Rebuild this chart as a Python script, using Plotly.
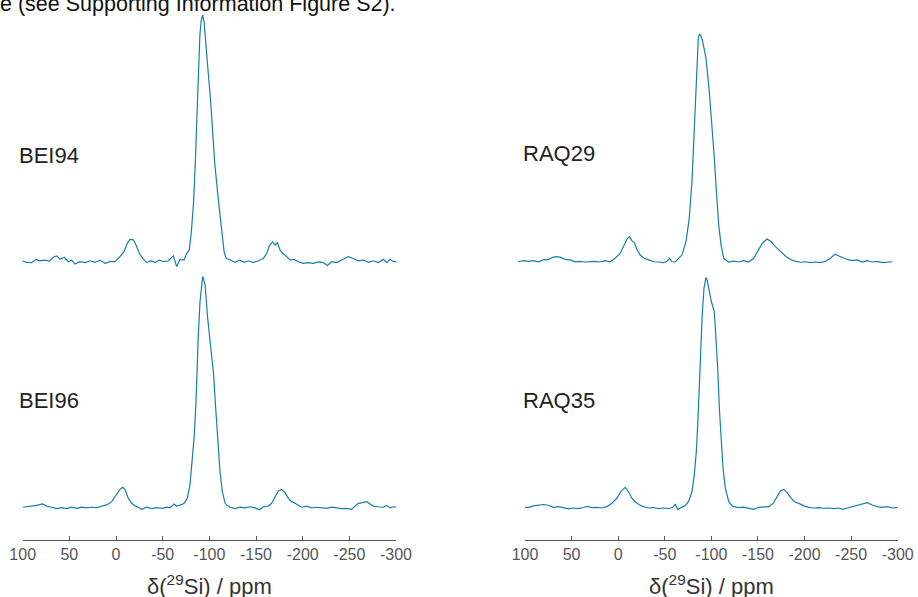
import plotly.graph_objects as go

# ---------------- data ----------------
bei94_ppm = [100, 95.7, 90.4, 85.7, 81.4, 76.1, 71.4, 67.1, 63.6, 60, 55.4, 51.1, 47.5, 44, 38.6, 33.2, 27.9, 22.5,
             17.1, 11.8, 6.4, 1.1, -3.6, -8.6, -12.1, -15, -18.6, -21.4, -25, -28.6, -32.9, -37.2, -41.8, -46.4,
             -50.7, -56.1, -61.4, -65, -68.6, -72.9, -75.7, -78.4, -80.6, -83.2, -84.8, -86, -87.2, -88.4, -89.8,
             -91.2, -92.8, -94.4, -95.8, -98.2, -101.2, -103.4, -105.8, -109.5, -113, -115.8, -117.8, -118.6,
             -122.9, -127.5, -132.2, -137.2, -141.8, -147.2, -152.5, -157.9, -161.5, -164.3, -167.9, -170.4,
             -172.9, -175.8, -178.6, -182.2, -186.5, -190.7, -195.4, -200.7, -206.1, -211.5, -216.8, -222.2,
             -226.5, -231.1, -236.5, -241.8, -249, -254.3, -259.7, -265, -270.4, -275.8, -281.1, -286.5, -290,
             -293.6, -297.2, -300]
bei94_int = [0, -0.6, -0.7, 0.7, 0.1, 0.4, 0, 1.6, 2.2, 0.7, 1.6, -0.3, 0.4, -1.3, -0.3, -0.7, 0.1, -0.6,
             0.4, -1, -0.3, -0.3, 1.6, 4, 7.6, 9.3, 9.1, 6.9, 3.3, 1.1, -0.7, 0.1, -0.7, 0.4,
             -0.3, 0.1, 2.2, -2.4, 0.7, 0.4, 3.3, 4.7, 12, 26, 40.7, 55, 69.4, 83.8, 97,
             103.5, 106, 103, 97, 84, 70, 57, 42, 27, 13, 4, 1.3, 1.1,
             0.4, -0.7, 0.4, -0.6, 0.1, -0.7, 0.1, 1.1, 3.3, 6.5, 8.3, 6.9,
             7.9, 4.7, 3.3, 2.2, 0.4, 0.7, -0.3, -1, -0.7, -1, -0.4, -0.7,
             -1.9, -0.3, -0.7, 0.4, 1.9, 1.1, 0.1, 0.4, -0.6, 0.1, -0.7, 0.7, -0.7,
             0.7, -0.3, -0.3]

bei96_ppm = [100, 95.7, 90.4, 85, 78.6, 74.3, 68.9, 63.6, 58.2, 52.9, 47.5, 42.1, 36.8, 31.4, 26.1, 20.7, 15.4,
             10, 4.6, 0, -4.3, -7.1, -9.6, -13.2, -16.8, -20.4, -23.9, -27.5, -32.9, -38.2, -43.6, -49, -54.3,
             -57.9, -62.2, -65, -70.3, -73.2, -76.4, -79.3, -81.8, -83.9, -85.7, -86.8, -88.2, -90, -91.5, -92.9,
             -94.3, -95.4, -98.2, -101.8, -104.6, -106.8, -108.9, -111.4, -113.9, -116.8, -118.6, -122.2, -127.5,
             -132.9, -138.2, -143.6, -149, -153.6, -157.9, -163.2, -166.8, -170.4, -174, -177.5, -181.1, -184.7,
             -188.2, -191.8, -195.4, -199, -204.3, -209.7, -215, -220.4, -225.8, -231.1, -236.5, -241.8, -247.2,
             -252.6, -256.1, -259.7, -264.3, -268.6, -272.2, -275.8, -281.1, -286.5, -290, -293.6, -297.2, -300]
bei96_int = [-0.1, 0.1, 0.4, 0.7, 1.3, 0.4, -0.1, -0.7, -0.3, -0.7, -0.1, -0.6, -0.1, -0.4, -0.1, -0.3, 0.4,
             0.9, 2.3, 5.2, 7.6, 8.5, 7.6, 3.7, 1.6, 0.4, -0.1, -1, -0.1, -0.7, -0.3, -0.6, -0.1,
             -0.4, 1.3, 0.4, 1, 1.7, 3.8, 9.6, 19.7, 31.2, 45.5, 59.9, 74.3, 88.6, 96, 99.4,
             97.5, 95.8, 81.4, 67.1, 57, 42.6, 28.3, 15.3, 6.7, 1.7, 0.9, -0.1, -0.7,
             -0.1, -0.4, 0.1, -0.4, -1.2, 0.1, 0.4, 1.6, 4.5, 7, 7.6, 6.2, 3.7,
             2.3, 1.6, 0.9, -0.1, 0.4, -0.4, -0.1, -0.4, -0.6, -0.1, -0.4, -0.7, -0.6,
             -1, 0.4, 1.6, 1.9, 2.3, 1.3, 0.4, 0.1, -0.1, 0.7, -0.4, 0.1, -0.1]

raq29_ppm = [107.2, 101.8, 96.4, 91.1, 85.7, 80.3, 74.9, 70.3, 66, 61.7, 57, 51.6, 46.3, 40.9, 35.5, 30.1, 24.8,
             19.4, 14, 8.6, 3.3, -2.1, -6.4, -10, -12.2, -14.7, -17.5, -20, -23.6, -27.9, -32.6, -38, -43.3,
             -48.7, -52.3, -55.2, -57.7, -61.3, -64.9, -68.5, -72.8, -76.3, -79.2, -81, -82.8, -84.6, -86, -87.4,
             -88.8, -90.7, -94.3, -97.8, -100.7, -103.2, -105.4, -107.9, -110.4, -113.3, -116.8, -118.6, -124,
             -129.4, -134.7, -140.1, -145.5, -149.8, -154.5, -159.8, -164.1, -168.8, -174.2, -179.5, -184.9,
             -190.3, -195.7, -201, -206.4, -211.8, -217.2, -222.5, -227.9, -232.6, -236.9, -240.5, -245.8,
             -251.2, -256.6, -261.9, -267.3, -272.7, -278.1, -283.4, -288.8, -294.2]
raq29_int = [0.1, 0.6, 0.3, 0.6, 0.1, 0.9, 1.1, 2, 2.3, 2, 1.1, 0.9, 0.1, 0.3, 0, 0.1, 0.3,
             0, 0.6, 0.1, 1.6, 3.7, 7.3, 10.2, 10.9, 9.2, 8.3, 5.5, 3, 1.6, 0.9, 0.1, 0,
             -0.3, 0.3, 1.6, 0.1, 0, 1.6, 3.1, 8.8, 18.9, 34.7, 51.9, 73.5, 90.7, 96.5, 98.2,
             97.5, 95, 87.8, 73.5, 59.1, 44.7, 30.4, 16, 7.4, 1.6, 0.5, 0, 0.4,
             0, 0.6, 0, 1.6, 4.4, 8, 9.9, 8.8, 6.6, 4.4, 2.6, 1.1,
             0.3, -0.1, 0.1, -0.3, 0, -0.3, 0.3, 1.6, 3.4, 2.6, 2, 1.1,
             0.6, 0.9, 0, 0.6, 0, 0.3, -0.3, 0, 0.1]

raq35_ppm = [101.1, 96.4, 91.1, 85.7, 80.3, 74.9, 69.6, 64.2, 58.8, 53.4, 48.1, 42.7, 37.3, 33, 28.3, 23, 17.6,
             12.2, 6.8, 1.5, -3.2, -7.5, -11.1, -14.7, -18.3, -22.9, -27.2, -32.6, -38, -43.3, -48.7, -54.1,
             -58.8, -61.3, -63.8, -68.4, -72, -75.6, -79.2, -81.7, -83.9, -85.7, -87.1, -88.2, -90, -92.1, -93.2,
             -94.3, -95.6, -97.1, -100, -103.2, -105, -106.8, -108.6, -110.4, -112.5, -115, -118.6, -122.9,
             -129.4, -134.7, -140.1, -145.5, -150.9, -156.2, -161.6, -166.3, -170.6, -174.2, -177.7, -181.3,
             -184.9, -189.2, -193.9, -199.3, -204.6, -210, -215.4, -220.7, -226.1, -231.5, -236.9, -240.5,
             -245.8, -251.2, -256.6, -261.9, -267.3, -272.7, -278.1, -283.4, -288.8, -294.2, -300.3]
raq35_int = [0.3, 0.2, 0.9, 1.2, 1.5, 1.2, 0.3, 0.6, 0, -0.4, 0, -0.3, 0.2, 0.7, 0.2, 0.3, 0,
             0.6, 2, 4.2, 7.3, 8.9, 7, 4.2, 2.7, 1.3, 0.6, 0, 0.2, -0.3, 0, -0.3,
             0.3, 1.7, -0.6, 0.3, 1.1, 2.8, 7.1, 14.3, 24.4, 38.7, 53.1, 67.5, 81.8, 94.8, 98,
             99.4, 98, 94.8, 89, 84.7, 74.7, 60.3, 43, 28.7, 17.2, 8.6, 2.8, 0.7,
             0.2, 0.4, -0.1, -0.6, 0.3, 0.3, 0.6, 2, 4.9, 7.3, 8, 6.6,
             4.6, 2.7, 2, 0.9, 0.3, 0, 0.2, -0.1, 0, -0.3, 0, -0.6,
             0, 0.6, 1.3, 2, 2.3, 1.3, 0.6, 0.3, 0.6, 0, 0.3]

sample_labels = ["BEI94", "BEI96", "RAQ29", "RAQ35"]
tick_vals = [100, 50, 0, -50, -100, -150, -200, -250, -300]
tick_text = ["100", "50", "0", "-50", "-100", "-150", "-200", "-250", "-300"]
axis_title = "δ(<sup>29</sup>Si) / ppm"
page_text = "e (see Supporting Information Figure S2)."

# ---------------- layout geometry (pixels) ----------------
W, H = 918, 597
LINE = "#167ea8"
FONT = "Liberation Sans, Arial, Helvetica, sans-serif"


def fx(px):
    return px / W


def fy(py):
    return 1 - py / H


# visible axis pixel extents (100 .. -300)
left_px = (22.7, 396.0)
right_px = (525.0, 897.7)
# hidden axes for the upper spectra extend a bit wider so a spectrum may run past the axis ends
left_data_px = (8.0, 408.0)
right_data_px = (505.0, 912.0)


def ppm_at(px, ax_px):
    scale = 400.0 / (ax_px[1] - ax_px[0])
    return 100 - (px - ax_px[0]) * scale


PX_PER_UNIT = 2.32
AXIS_Y = 540.0
SPLIT_Y = 270.0


def yrange(base_py, bottom_py, top_py):
    return [(base_py - bottom_py) / PX_PER_UNIT, (base_py - top_py) / PX_PER_UNIT]


fig = go.Figure()

fig.add_trace(go.Scatter(x=bei96_ppm, y=bei96_int, mode="lines", line=dict(color=LINE, width=1.2),
                         xaxis="x", yaxis="y", name=sample_labels[1], showlegend=False))
fig.add_trace(go.Scatter(x=raq35_ppm, y=raq35_int, mode="lines", line=dict(color=LINE, width=1.2),
                         xaxis="x2", yaxis="y3", name=sample_labels[3], showlegend=False))
fig.add_trace(go.Scatter(x=bei94_ppm, y=bei94_int, mode="lines", line=dict(color=LINE, width=1.2),
                         xaxis="x3", yaxis="y2", name=sample_labels[0], showlegend=False))
fig.add_trace(go.Scatter(x=raq29_ppm, y=raq29_int, mode="lines", line=dict(color=LINE, width=1.2),
                         xaxis="x4", yaxis="y4", name=sample_labels[2], showlegend=False))

vis_axis = dict(range=[100, -300], tickmode="array", tickvals=tick_vals, ticktext=tick_text,
                ticks="inside", ticklen=4, tickwidth=1, tickcolor="#555555", automargin=False,
                showline=True, linecolor="#555555", linewidth=1, showgrid=False, zeroline=False,
                tickfont=dict(family=FONT, size=16, color="#555555"), fixedrange=True)
hid = dict(visible=False, automargin=False, fixedrange=True)

fig.update_layout(
    width=W, height=H,
    margin=dict(l=0, r=0, t=0, b=0, pad=0, autoexpand=False),
    paper_bgcolor="white", plot_bgcolor="rgba(0,0,0,0)",
    showlegend=False,
    font=dict(family=FONT),
    xaxis=dict(domain=[fx(left_px[0]), fx(left_px[1])], anchor="y", **vis_axis),
    xaxis2=dict(domain=[fx(right_px[0]), fx(right_px[1])], anchor="y3", **vis_axis),
    xaxis3=dict(domain=[fx(left_data_px[0]), fx(left_data_px[1])], anchor="y2",
                range=[ppm_at(left_data_px[0], left_px), ppm_at(left_data_px[1], left_px)], **hid),
    xaxis4=dict(domain=[fx(right_data_px[0]), fx(right_data_px[1])], anchor="y4",
                range=[ppm_at(right_data_px[0], right_px), ppm_at(right_data_px[1], right_px)], **hid),
    yaxis=dict(domain=[fy(AXIS_Y), fy(SPLIT_Y)], anchor="x",
               range=yrange(507.0, AXIS_Y, SPLIT_Y), **hid),
    yaxis2=dict(domain=[fy(SPLIT_Y), 1.0], anchor="x3",
                range=yrange(261.0, SPLIT_Y, 0.0), **hid),
    yaxis3=dict(domain=[fy(AXIS_Y), fy(SPLIT_Y)], anchor="x2",
                range=yrange(508.0, AXIS_Y, SPLIT_Y), **hid),
    yaxis4=dict(domain=[fy(SPLIT_Y), 1.0], anchor="x4",
                range=yrange(262.0, SPLIT_Y, 0.0), **hid),
)

label_pos = [(17, 155), (17, 400), (521, 154), (521, 400)]
for text, (px, py) in zip(sample_labels, label_pos):
    fig.add_annotation(text=text, xref="paper", yref="paper", x=fx(px), y=fy(py),
                       xanchor="left", yanchor="middle", showarrow=False,
                       font=dict(family=FONT, size=22, color="#222222"))

for ax_px in (left_px, right_px):
    fig.add_annotation(text=axis_title, xref="paper", yref="paper",
                       x=fx((ax_px[0] + ax_px[1]) / 2), y=fy(585), xanchor="center", yanchor="middle",
                       showarrow=False, font=dict(family=FONT, size=22, color="#333333"))

fig.add_annotation(text=page_text, xref="paper", yref="paper", x=fx(-2), y=fy(4),
                   xanchor="left", yanchor="middle", showarrow=False,
                   font=dict(family=FONT, size=21.5, color="#111111"))

fig.write_html("out.html")
